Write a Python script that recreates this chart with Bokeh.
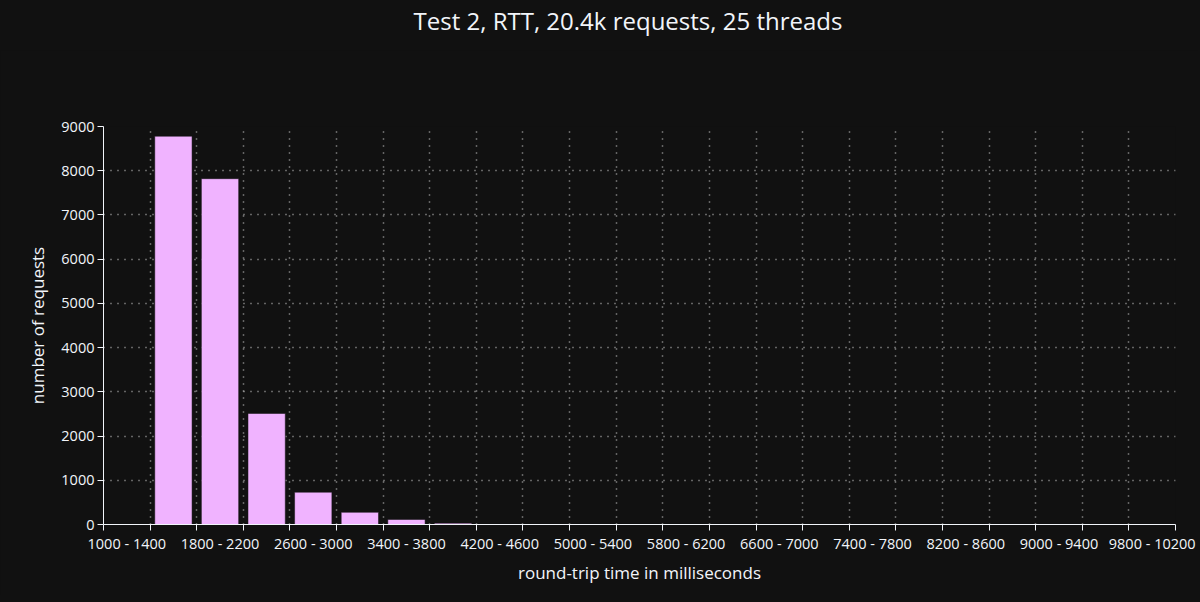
from bokeh.plotting import figure
from bokeh.models import Range1d, FixedTicker, GlobalInlineStyleSheet, Div
from bokeh.layouts import column
from bokeh.embed import file_html
from bokeh.resources import INLINE

# ---- data ----
bin_labels = [
    "1000 - 1400", "1400 - 1800", "1800 - 2200", "2200 - 2600", "2600 - 3000",
    "3000 - 3400", "3400 - 3800", "3800 - 4200", "4200 - 4600", "4600 - 5000",
    "5000 - 5400", "5400 - 5800", "5800 - 6200", "6200 - 6600", "6600 - 7000",
    "7000 - 7400", "7400 - 7800", "7800 - 8200", "8200 - 8600", "8600 - 9000",
    "9000 - 9400", "9400 - 9800", "9800 - 10200",
]
counts = [0, 8780, 7820, 2510, 730, 275, 113, 30, 0, 0, 0, 12, 10, 10, 10,
          0, 0, 0, 12, 0, 0, 0, 0]
y_ticks = [0, 1000, 2000, 3000, 4000, 5000, 6000, 7000, 8000, 9000]
title_text = "Test 2, RTT, 20.4k requests, 25 threads"
x_title = "round-trip time in milliseconds"
y_title = "number of requests"

# derived from the labels
edges_lo = [float(s.split(" - ")[0]) for s in bin_labels]
edges_hi = [float(s.split(" - ")[1]) for s in bin_labels]
centers = [(a + b) / 2 for a, b in zip(edges_lo, edges_hi)]
boundaries = sorted(set(edges_lo + edges_hi))
bar_w = (edges_hi[0] - edges_lo[0]) * 0.8

BG = "#111111"
FG = "#f2f5fa"
FONT = "Open Sans"
TITLE_H = 40
FIG_W = 1198

title_div = Div(text=title_text, width=1184, height=TITLE_H,
                styles={"text-align": "center", "font-family": FONT,
                        "font-size": "24px", "color": FG,
                        "text-indent": "62px",
                        "line-height": "32px", "background": BG})
title_div.stylesheets = [GlobalInlineStyleSheet(
    css="html, body { background: #111111; }")]

p = figure(width=FIG_W, height=545, output_backend="svg",
           toolbar_location=None,
           x_range=Range1d(boundaries[0], boundaries[-1]),
           y_range=Range1d(0, y_ticks[-1]),
           min_border_left=103, min_border_right=FIG_W - 1175,
           min_border_top=76, min_border_bottom=71)
p.background_fill_color = BG
p.border_fill_color = BG
p.outline_line_color = None

xs = [c for c, v in zip(centers, counts) if v > 0]
ys = [v for v in counts if v > 0]
p.vbar(x=xs, top=ys, width=bar_w, bottom=0, fill_color="#f0b3ff",
       line_color=BG, line_width=0.5)

# x axis: labels at centers of every second bin, ticks at bin boundaries
lab_centers = centers[::2]
lab_texts = bin_labels[::2]
xa = p.xaxis[0]
xa.ticker = FixedTicker(ticks=lab_centers, minor_ticks=boundaries)
xa.major_label_overrides = {c: t for c, t in zip(lab_centers, lab_texts)}
xa.major_tick_out = 0
xa.major_tick_in = 0
xa.minor_tick_out = 6
xa.minor_tick_in = 0
xa.minor_tick_line_color = FG
xa.major_label_standoff = 3
xa.axis_label = x_title
xa.axis_label_standoff = 5

ya = p.yaxis[0]
ya.ticker = FixedTicker(ticks=y_ticks)
ya.major_tick_out = 6
ya.major_tick_in = 0
ya.minor_tick_out = 0
ya.minor_tick_in = 0
ya.major_tick_line_color = FG
ya.major_label_standoff = 3
ya.axis_label = y_title
ya.axis_label_standoff = 9

for ax in (xa, ya):
    ax.axis_line_color = FG
    ax.axis_line_width = 1
    ax.major_label_text_font = FONT
    ax.major_label_text_font_size = "14.5px"
    ax.major_label_text_color = FG
    ax.axis_label_text_font = FONT
    ax.axis_label_text_font_size = "17px"
    ax.axis_label_text_font_style = "normal"
    ax.axis_label_text_color = FG

# grids
GRID = "#b8b8b8"
p.xgrid.grid_line_color = None
p.xgrid.minor_grid_line_color = GRID
p.xgrid.minor_grid_line_dash = "1 6"
p.xgrid.minor_grid_line_width = 1.5
p.ygrid.grid_line_color = GRID
p.ygrid.grid_line_dash = "1 6"
p.ygrid.grid_line_width = 1.5

layout = column(title_div, p, spacing=0, styles={"background": BG})

open("out.html", "w").write(file_html(layout, INLINE))
